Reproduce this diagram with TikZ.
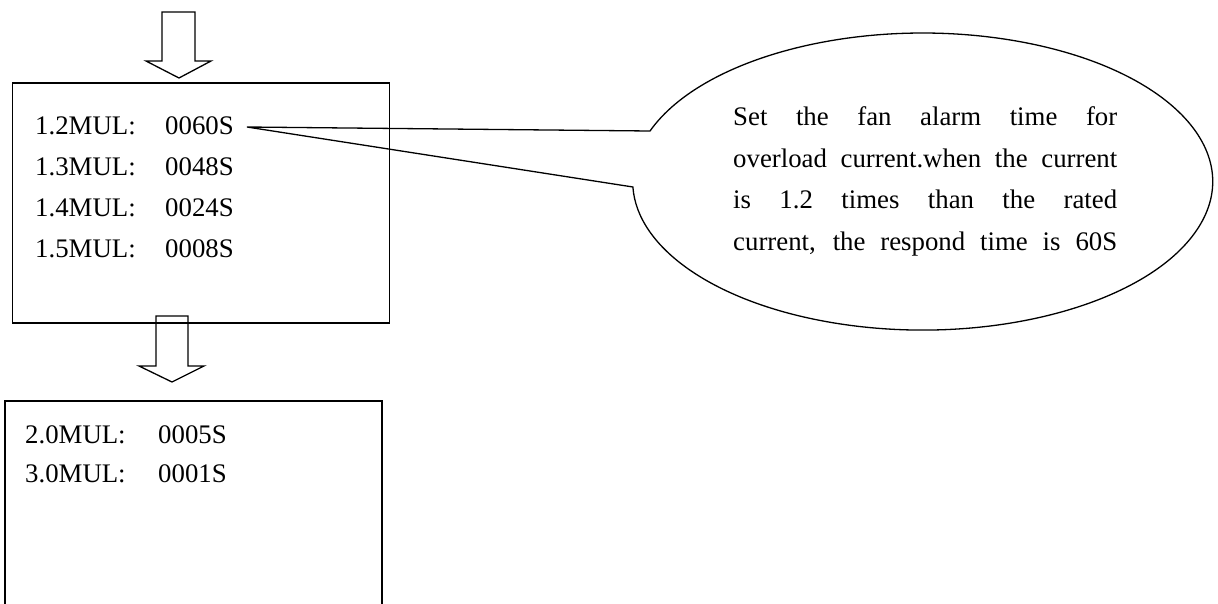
\documentclass[tikz,border=0pt]{standalone}
\usepackage{fontspec}
\setmainfont{Liberation Serif}
\begin{document}
\begin{tikzpicture}[x=1pt,y=-1pt, line join=miter,
  frame/.style={draw, line width=1.5pt, rectangle, inner sep=0pt, outer sep=0pt, anchor=north west},
  txt/.style={anchor=base west, inner sep=0pt, font=\fontsize{26.8}{30}\selectfont},
  blockarrow/.style={draw, line width=1.3pt},
  callout/.style={draw, line width=1.3pt}]
\useasboundingbox (0,0) rectangle (1218,603);
\clip (0,0) rectangle (1218,603);

% boxes
\node[frame, minimum width=377pt, minimum height=240pt] (box1) at (12.5,83) {};
\node[frame, minimum width=377pt, minimum height=260pt] (box2) at (5,401) {};

% block arrows
\draw[blockarrow] (162,12) -- (162,61) -- (146,61) -- (179,78) -- (211,61) -- (195,61) -- (195,12) -- cycle;
\draw[blockarrow] (156,316) -- (156,366) -- (139,366) -- (172,382) -- (204,366) -- (188,366) -- (188,316) -- cycle;

% box 1 text
\node[txt] (r1a) at (35,134) {1.2MUL:};
\node[txt] (r1b) at (165,134) {0060S};
\node[txt] (r2a) at (35,175) {1.3MUL:};
\node[txt] (r2b) at (165,175) {0048S};
\node[txt] (r3a) at (35,216) {1.4MUL:};
\node[txt] (r3b) at (165,216) {0024S};
\node[txt] (r4a) at (35,257) {1.5MUL:};
\node[txt] (r4b) at (165,257) {0008S};

% box 2 text
\node[txt] (s1a) at (25,443) {2.0MUL:};
\node[txt] (s1b) at (158,443) {0005S};
\node[txt] (s2a) at (25,482) {3.0MUL:};
\node[txt] (s2b) at (158,482) {0001S};

% callout
\coordinate (tip) at (247,127);
\coordinate (cu) at (650,131);
\draw[callout] (tip) -- (cu)
  arc[start angle=-160.1, end angle=177.9, x radius=290, y radius=148.5]
  coordinate (cl) -- cycle;

\node[txt] (c1) at (733,125) {\makebox[384pt][s]{Set the fan alarm time for}};
\node[txt] (c2) at (733,167) {\makebox[384pt][s]{overload current.when the current}};
\node[txt] (c3) at (733,208) {\makebox[384pt][s]{is 1.2 times than the rated}};
\node[txt] (c4) at (733,250) {\makebox[384pt][s]{current, the respond time is 60S}};
\end{tikzpicture}
\end{document}
